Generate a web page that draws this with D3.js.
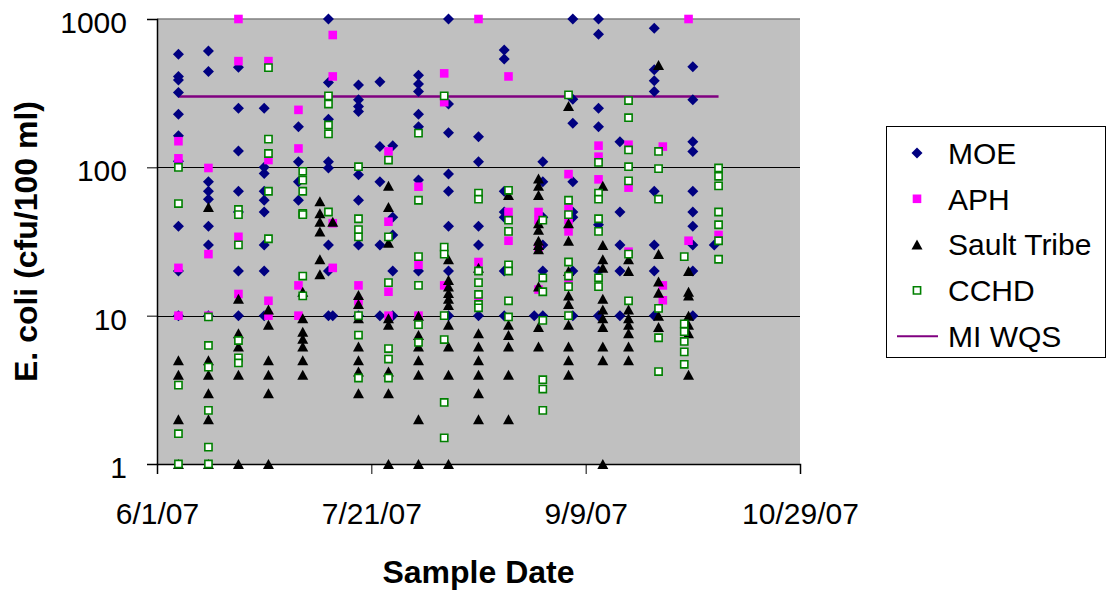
<!DOCTYPE html>
<html lang="en">
<head>
<meta charset="utf-8">
<script src="https://cdn.jsdelivr.net/npm/d3@7"></script>
<style>
  body { margin: 0; background: white; }
  svg { display: block; font-family: 'Liberation Sans', Arial, sans-serif; }
</style>
</head>
<body>
<svg width="1107" height="597"></svg>
<script>
// E. coli samples, grouped by sample date: [date, values]
const moe = [
  ["6/6/07", [579, 409, 388, 319, 228, 163, 110, 40, 20, 10]],
  ["6/13/07", [609, 442, 80, 69, 61, 40, 30, 10]],
  ["6/20/07", [473, 250, 129, 69, 50, 20, 10]],
  ["6/26/07", [250, 100, 91, 69, 60, 50, 30, 20, 10]],
  ["7/4/07", [188, 109, 80, 60]],
  ["7/11/07", [1000, 373, 211, 109, 99, 30, 20, 10]],
  ["7/12/07", [10]],
  ["7/18/07", [359, 285, 257, 238, 89, 60, 30, 10]],
  ["7/23/07", [378, 138, 80, 30, 10]],
  ["7/26/07", [140, 46, 35, 20, 10]],
  ["8/1/07", [417, 365, 324, 228, 188, 82, 20]],
  ["8/8/07", [1000, 267, 171, 90, 69, 40, 20, 10]],
  ["8/15/07", [161, 109, 40, 30, 10]],
  ["8/21/07", [619, 538, 69, 50, 46, 20, 10]],
  ["8/28/07", [10]],
  ["8/30/07", [109, 80, 46, 30, 20, 10]],
  ["9/6/07", [1000, 288, 198, 80, 50, 46, 20, 10]],
  ["9/12/07", [1000, 789, 250, 188, 41, 20, 10]],
  ["9/17/07", [149, 50, 30, 20, 10]],
  ["9/25/07", [867, 454, 384, 324, 69, 30, 20, 10]],
  ["10/4/07", [477, 285, 149, 128, 69, 50, 40, 30, 20, 10]],
  ["10/9/07", [30]]
];

const aph = [
  ["6/6/07", [150, 115, 21, 10]],
  ["6/13/07", [99, 26, 10]],
  ["6/20/07", [1000, 520, 34, 14]],
  ["6/27/07", [520, 112, 12.6, 10]],
  ["7/4/07", [244, 134, 16, 10]],
  ["7/12/07", [780, 410, 42, 21]],
  ["7/18/07", [16, 12.5]],
  ["7/25/07", [128, 43, 14.5, 10]],
  ["8/1/07", [74, 22, 10]],
  ["8/7/07", [430, 275, 16]],
  ["8/15/07", [1000, 23, 12.7]],
  ["8/22/07", [410, 50, 32]],
  ["8/29/07", [50, 44, 29, 15]],
  ["9/5/07", [90, 53, 44, 37, 17]],
  ["9/12/07", [140, 118, 83]],
  ["9/19/07", [142, 73, 27]],
  ["9/27/07", [138, 16, 12.7]],
  ["10/3/07", [1000, 32]],
  ["10/10/07", [35]]
];

const sault = [
  ["6/6/07", [5, 4, 2, 1]],
  ["6/13/07", [54, 5, 4, 3, 2, 1]],
  ["6/20/07", [13, 7.6, 6.2, 4, 1]],
  ["6/27/07", [11, 8.7, 5, 4, 3, 1]],
  ["7/5/07", [14.5, 9.6, 7.8, 7, 6.2, 5, 4]],
  ["7/9/07", [59, 49, 43, 37, 24, 19]],
  ["7/12/07", [43]],
  ["7/18/07", [13.8, 12, 9.6, 6.2, 5, 4.2, 3]],
  ["7/25/07", [75, 54, 31, 9.6, 8.7, 4.2, 3, 1]],
  ["8/1/07", [10, 7.4, 6.2, 5, 4, 2, 1]],
  ["8/8/07", [24, 17.4, 15.7, 14.2, 13, 11.8, 8.7, 6.2, 4, 1]],
  ["8/15/07", [21, 7.6, 6.2, 5, 4, 3, 2]],
  ["8/22/07", [65, 8.7, 7.4, 6.2, 4, 2]],
  ["8/29/07", [84, 75, 65, 42, 38, 32, 30, 28, 15.7, 8.4, 6.2]],
  ["9/5/07", [259, 42, 32, 20, 13.7, 12, 8.7, 6.2, 5, 4]],
  ["9/13/07", [75, 30, 24, 21, 13, 11, 9.6, 8.4, 6.2, 5, 1]],
  ["9/19/07", [24, 20, 11, 9.6, 8.7, 7.6, 6.2, 5]],
  ["9/26/07", [490, 26, 17, 14.3, 10, 8.4]],
  ["10/3/07", [20, 14.5, 13.7, 10, 8.7, 7.6, 4]]
];

const cchd = [
  ["6/6/07", [100, 57, 3.4, 1.6, 1]],
  ["6/13/07", [9.8, 6.3, 4.5, 2.3, 1.3, 1]],
  ["6/20/07", [52, 48, 30, 6.8, 5.2, 4.8]],
  ["6/27/07", [470, 155, 124, 69, 33]],
  ["7/5/07", [94, 82, 69, 49, 48, 18.5, 13.6]],
  ["7/11/07", [303, 267, 193, 168, 50]],
  ["7/18/07", [101, 45, 38, 34, 10, 7.4, 3.8]],
  ["7/25/07", [112, 34, 16.7, 6, 5.1, 3.8]],
  ["8/1/07", [170, 60, 25, 16, 8.7, 6.6]],
  ["8/7/07", [303, 29, 26, 10, 6.9, 2.6, 1.5]],
  ["8/15/07", [67, 61, 20, 16.7, 13.9, 11.9, 11.3]],
  ["8/22/07", [70, 44, 37, 22, 20, 12.6, 9.8]],
  ["8/30/07", [44, 18, 14.5, 9.3, 3.7, 3.2, 2.3]],
  ["9/5/07", [308, 60, 48, 23, 18.5, 15.7, 10]],
  ["9/12/07", [108, 67, 61, 45, 37, 18, 15.7]],
  ["9/19/07", [282, 216, 131, 101, 81, 26, 12.6]],
  ["9/26/07", [128, 98, 61, 11.2, 7.1, 4.2]],
  ["10/2/07", [25, 8.8, 7.8, 6.7, 5.7, 4.7]],
  ["10/10/07", [99, 87, 75, 50, 41, 32, 24]]
];

// Michigan water quality standard
const wqsDates = ["6/6/07", "10/10/07"];
const wqsValues = [300, 300];

const xTicks = ["6/1/07", "7/21/07", "9/9/07", "10/29/07"];
const yTicks = [1, 10, 100, 1000];

const parse = d3.timeParse("%m/%d/%y");
const fmt = d3.timeFormat("%-m/%-d/%y");

const svg = d3.select("svg");
const plotL = 157, plotR = 800, plotT = 19, plotB = 464;

const x = d3.scaleTime()
  .domain([parse(xTicks[0]), parse(xTicks[xTicks.length - 1])])
  .range([plotL, plotR]);
const y = d3.scaleLog().domain([1, 1000]).range([plotB, plotT]);

// plot area
svg.append("rect")
  .attr("x", plotL).attr("y", plotT)
  .attr("width", plotR - plotL).attr("height", plotB - plotT)
  .attr("fill", "#c0c0c0");
svg.append("line")
  .attr("x1", plotL).attr("x2", plotR).attr("y1", plotT).attr("y2", plotT)
  .attr("stroke", "#808080").attr("stroke-width", 1.5);

// gridlines
svg.append("g").selectAll("line")
  .data([10, 100]).enter().append("line")
  .attr("x1", plotL).attr("x2", plotR)
  .attr("y1", d => Math.round(y(d)) + 0.5).attr("y2", d => Math.round(y(d)) + 0.5)
  .attr("stroke", "#000").attr("stroke-width", 1);

// axes
const yAxis = svg.append("g")
  .attr("transform", `translate(${plotL},0)`)
  .call(d3.axisLeft(y).tickValues(yTicks).tickFormat(d3.format("d")).tickSize(10).tickPadding(20));
const xAxis = svg.append("g")
  .attr("transform", `translate(0,${plotB})`)
  .call(d3.axisBottom(x).tickValues(xTicks.map(parse)).tickFormat(fmt).tickSize(10).tickPadding(8));

[yAxis, xAxis].forEach(a => {
  a.select(".domain").attr("stroke", "#000").attr("stroke-width", 1.5);
  a.selectAll(".tick line").attr("stroke", "#000").attr("stroke-width", 1);
  a.selectAll("text").attr("font-size", 30).attr("fill", "#000")
    .attr("font-family", "'Liberation Sans', Arial, sans-serif");
});
yAxis.selectAll("text").attr("dy", "0.45em");
xAxis.selectAll("text").attr("dy", "1.4em");

// axis titles
svg.append("text")
  .attr("transform", `translate(37,${(plotT + plotB) / 2}) rotate(-90)`)
  .attr("text-anchor", "middle")
  .attr("font-size", 32).attr("font-weight", "bold")
  .text("E. coli (cfu/100 ml)");
svg.append("text")
  .attr("x", (plotL + plotR) / 2).attr("y", 583)
  .attr("text-anchor", "middle")
  .attr("font-size", 32).attr("font-weight", "bold")
  .text("Sample Date");

// marker shapes
const shapes = {
  diamond: "M0,-5.5L5.5,0L0,5.5L-5.5,0Z",
  square: "M-4.3,-4.3H4.3V4.3H-4.3Z",
  triangle: "M0,-5L5.5,5H-5.5Z",
  open: "M-3.6,-3.6H3.6V3.6H-3.6Z"
};

const series = [
  { name: "MOE", data: moe, shape: "diamond", fill: "#000080", stroke: "none" },
  { name: "APH", data: aph, shape: "square", fill: "#ff00ff", stroke: "none" },
  { name: "Sault Tribe", data: sault, shape: "triangle", fill: "#000", stroke: "none" },
  { name: "CCHD", data: cchd, shape: "open", fill: "#fff", stroke: "#008000" }
];

// WQS line sits under the markers
const wqs = wqsDates.map((d, i) => ({ date: parse(d), v: wqsValues[i] }));
svg.append("path")
  .datum(wqs)
  .attr("fill", "none")
  .attr("stroke", "#800080")
  .attr("stroke-width", 2.5)
  .attr("d", d3.line().x(d => x(d.date)).y(d => y(d.v)));

series.forEach(s => {
  const pts = [];
  s.data.forEach(([d, vals]) => vals.forEach(v => pts.push({ date: parse(d), v })));
  svg.append("g").selectAll("path")
    .data(pts).enter().append("path")
    .attr("d", shapes[s.shape])
    .attr("transform", d => `translate(${x(d.date)},${y(d.v)})`)
    .attr("fill", s.fill)
    .attr("stroke", s.stroke)
    .attr("stroke-width", 1.6);
});

// legend
const lg = svg.append("g");
lg.append("rect")
  .attr("x", 886.5).attr("y", 126.5).attr("width", 219).attr("height", 231)
  .attr("fill", "#fff").attr("stroke", "#000").attr("stroke-width", 1);
const rowY = i => 153 + i * 45.8;
series.forEach((s, i) => {
  lg.append("path")
    .attr("d", shapes[s.shape])
    .attr("transform", `translate(917,${rowY(i)})`)
    .attr("fill", s.fill).attr("stroke", s.stroke).attr("stroke-width", 1.6);
  lg.append("text")
    .attr("x", 948).attr("y", rowY(i)).attr("dy", "0.36em")
    .attr("font-size", 30).text(s.name);
});
lg.append("line")
  .attr("x1", 897).attr("x2", 938).attr("y1", rowY(4)).attr("y2", rowY(4))
  .attr("stroke", "#800080").attr("stroke-width", 2);
lg.append("text")
  .attr("x", 948).attr("y", rowY(4)).attr("dy", "0.36em")
  .attr("font-size", 30).text("MI WQS");
</script>
</body>
</html>
